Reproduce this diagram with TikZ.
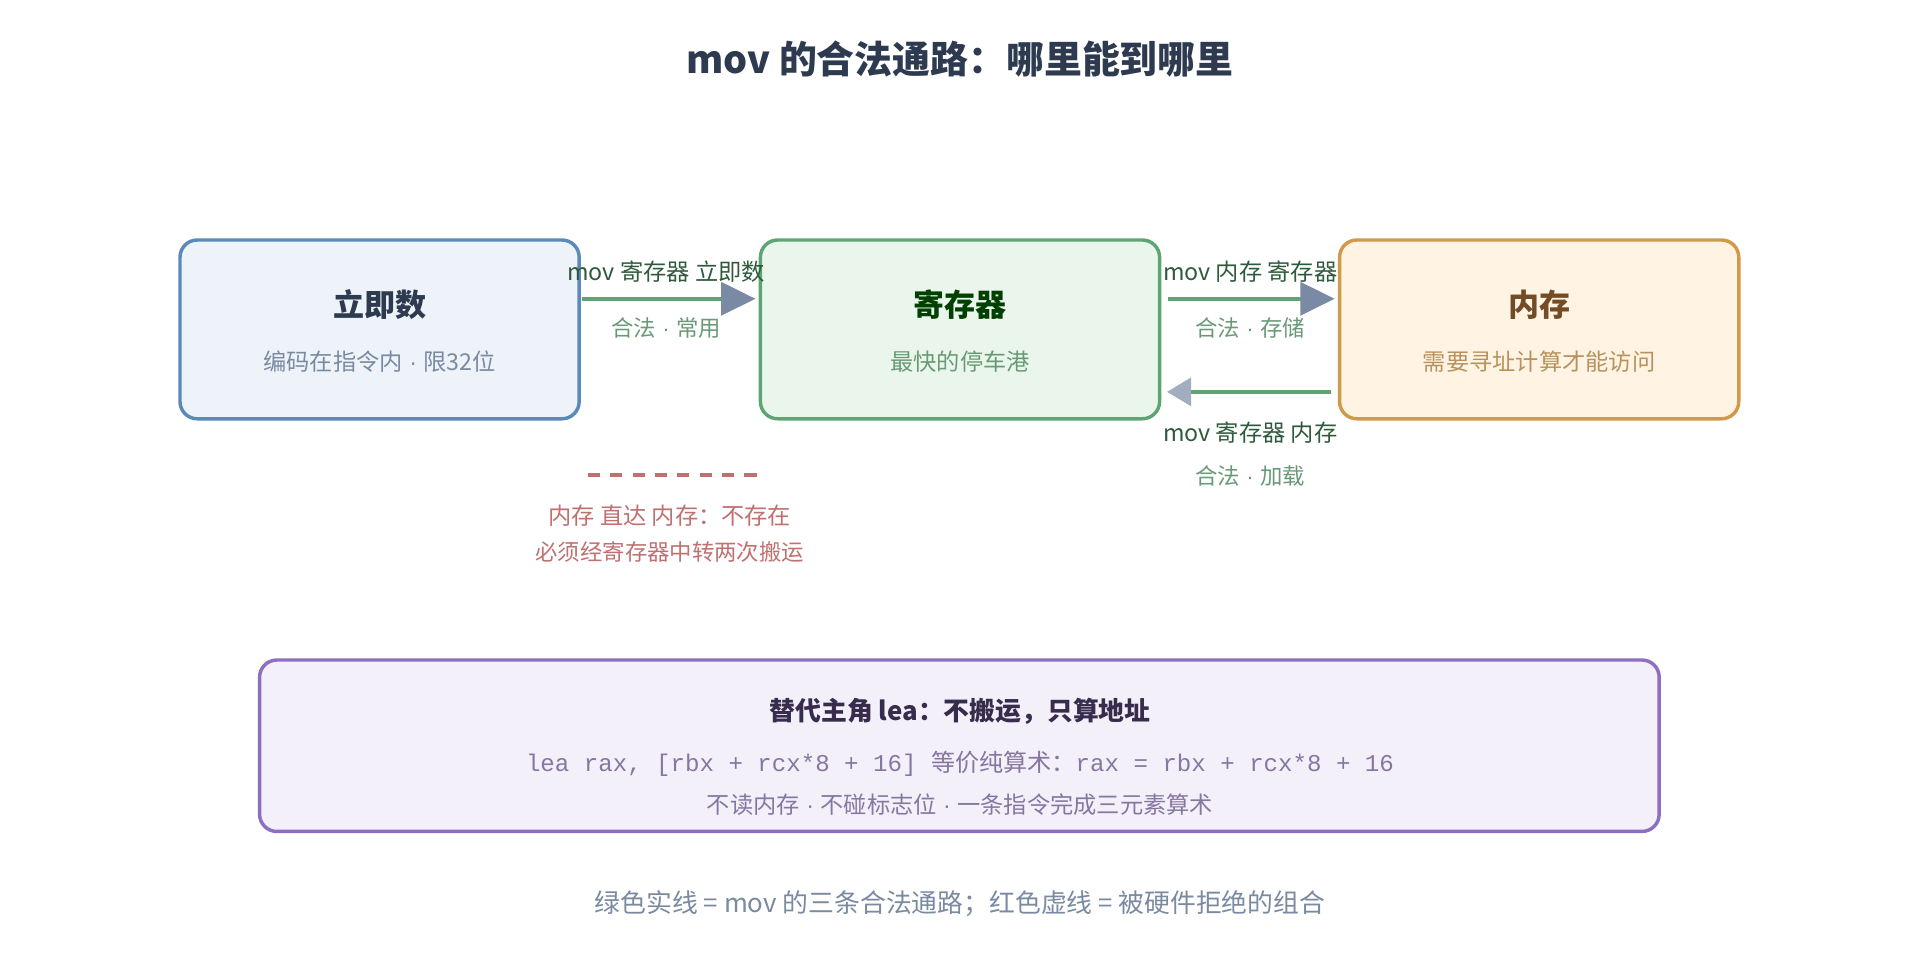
\documentclass[tikz,border=0pt]{standalone}
\usepackage{fontspec}
\setmainfont{Noto Sans CJK SC}
\setmonofont{Liberation Mono}
\newfontfamily\cjk{Noto Sans CJK SC}
\newfontfamily\lat{Liberation Sans}
\newcommand{\md}{{\lat\ ·\ }}
\usetikzlibrary{arrows.meta}
\definecolor{titlec}{HTML}{2D3A4F}
\definecolor{bluebd}{HTML}{5B8AB8}\definecolor{bluefill}{HTML}{EEF3FA}
\definecolor{greenbd}{HTML}{5FA574}\definecolor{greenfill}{HTML}{EAF6EC}
\definecolor{orbd}{HTML}{D09A4C}\definecolor{orfill}{HTML}{FFF4E4}
\definecolor{purbd}{HTML}{8C6FC0}\definecolor{purfill}{HTML}{F4F0FA}
\definecolor{headc}{HTML}{7A8AA5}
\definecolor{redc}{HTML}{C07070}
\definecolor{sub}{HTML}{7A8AA0}
\definecolor{lblc}{HTML}{2F5A3C}
\begin{document}
\begin{tikzpicture}[x=0.025cm,y=-0.025cm,
  box/.style={draw,line width=2pt,rounded corners=10pt,minimum width=326*0.025cm,minimum height=146*0.025cm},
  conn/.style={draw=greenbd,line width=2.6pt,-{Triangle[length=20pt,width=19pt,fill=headc,color=headc]}},
  lbl/.style={font=\fontsize{13.5}{16}\selectfont,text=lblc},
  lbl2/.style={font=\fontsize{13}{15}\selectfont,text=greenbd!70!gray},
  btitle/.style={font=\bfseries\fontsize{18}{21}\selectfont},
  bsub/.style={font=\fontsize{13.5}{16}\selectfont}]
\useasboundingbox[fill=white] (0,0) rectangle (1568,784);
\node[font=\bfseries\fontsize{22}{26}\selectfont,text=titlec] (title) at (784,48) {mov 的合法通路：哪里能到哪里};
\node[box,draw=bluebd,fill=bluefill] (imm) at (310,269) {};
\node[btitle,text=titlec] (immt) at (310,249) {立即数};
\node[bsub,text=sub] (imms) at (310,295) {编码在指令内\md 限32位};
\node[box,draw=greenbd,fill=greenfill] (reg) at (784,269) {};
\node[btitle,text=green!25!black] (regt) at (784,249) {寄存器};
\node[bsub,text=greenbd!70!gray] (regs) at (784,295) {最快的停车港};
\node[box,draw=orbd,fill=orfill] (mem) at (1257,269) {};
\node[btitle,text=brown!60!black] (memt) at (1257,249) {内存};
\node[bsub,text=orbd!70!gray] (mems) at (1257,295) {需要寻址计算才能访问};
\coordinate (a1s) at (475,244); \coordinate (a1e) at (617,244);
\coordinate (a2s) at (954,244); \coordinate (a2e) at (1090,244);
\coordinate (a3s) at (1087,320); \coordinate (a3e) at (953,320);
\draw[conn] (a1s) -- (a1e);
\draw[conn] (a2s) -- (a2e);
\draw[conn,-{Triangle[length=14pt,width=16pt,fill=headc!70,color=headc!70]}] (a3s) -- (a3e);
\node[lbl] (l1) at (544,222) {mov 寄存器 立即数};
\node[lbl2] (l1b) at (544,268) {合法\md 常用};
\node[lbl] (l2) at (1021,222) {mov 内存 寄存器};
\node[lbl2] (l2b) at (1021,268) {合法\md 存储};
\node[lbl] (l3) at (1021,353) {mov 寄存器 内存};
\node[lbl2] (l3b) at (1021,389) {合法\md 加载};
\coordinate (d1) at (480,388); \coordinate (d2) at (622,388);
\draw[redc,line width=2pt,dash pattern=on 7pt off 6pt] (d1) -- (d2);
\node[bsub,text=redc] (r1) at (547,421) {内存 直达 内存：不存在};
\node[font=\fontsize{13}{15}\selectfont,text=redc] (r2) at (547,451) {必须经寄存器中转两次搬运};
\node[draw=purbd,fill=purfill,line width=2pt,rounded corners=10pt,minimum width=1143*0.025cm,minimum height=140*0.025cm] (lea) at (783.5,609) {};
\node[font=\bfseries\fontsize{15}{18}\selectfont,text=purbd!40!black] (leat) at (784,581) {替代主角 lea：不搬运，只算地址};
\node[font=\fontsize{14}{16}\selectfont,text=purbd!50!gray] (leac) at (784,624) {\ttfamily lea rax, [rbx + rcx*8 + 16] {\cjk 等价纯算术：}rax = rbx + rcx*8 + 16};
\node[bsub,text=purbd!50!gray] (leas) at (784,657) {不读内存\md 不碰标志位\md 一条指令完成三元素算术};
\node[font=\fontsize{15}{18}\selectfont,text=sub] (foot) at (784,738) {绿色实线 = mov 的三条合法通路；红色虚线 = 被硬件拒绝的组合};
\end{tikzpicture}
\end{document}
